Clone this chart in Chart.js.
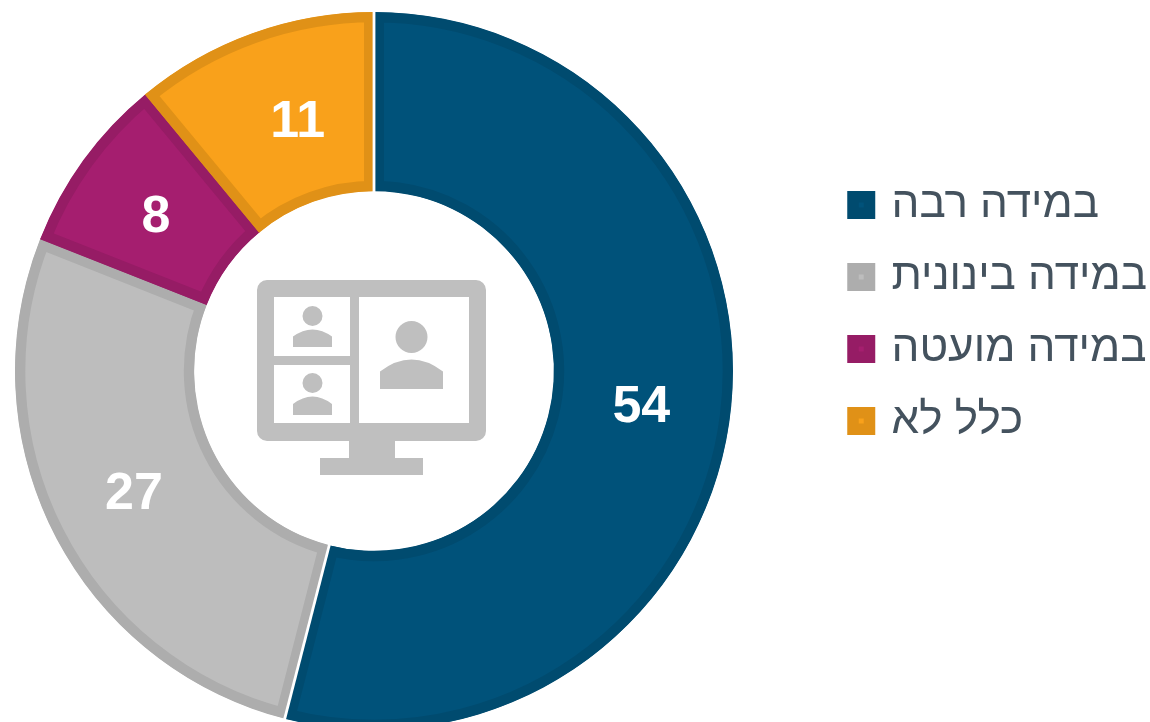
<!DOCTYPE html>
<html lang="he">
<head>
<meta charset="utf-8">
<script src="https://cdn.jsdelivr.net/npm/chart.js@4/dist/chart.umd.min.js"></script>
<style>
  html, body { margin: 0; padding: 0; background: #fff; width: 1150px; height: 722px; overflow: hidden; }
  canvas { display: block; }
</style>
</head>
<body>
<canvas id="chart" width="1150" height="745"></canvas>
<script>
// Data
const categories = ['במידה רבה', 'במידה בינונית', 'במידה מועטה', 'כלל לא'];
const values = [54, 27, 8, 11];

// Colours
const fillColors = ['#00527a', '#bdbdbd', '#a51e6f', '#f9a11b'];
const edgeColors = ['#004b6f', '#adadad', '#961c65', '#e09117'];
const iconColor = '#bfbfbf';
const legendTextColor = '#44525e';

// The ring runs past the bottom of the window, so the canvas is taller than the page
const plotArea = { left: 15, top: 12, right: 733, bottom: 730 };
const legendPos = { left: 853, top: 155 };
const labelShiftX = [0, 0, 0, 15];
const labelShiftY = [3, 1, 5, 5];

// Put the plot and the legend where the picture has them
const placement = {
  id: 'placement',
  afterLayout(chart) {
    Object.assign(chart.chartArea, plotArea, {
      width: plotArea.right - plotArea.left,
      height: plotArea.bottom - plotArea.top
    });
    const legend = chart.legend;
    legend.left = legendPos.left - legend.options.labels.padding;
    legend.right = legend.left + legend.width;
    legend.top = legendPos.top;
    legend.bottom = legend.top + legend.height;
  }
};

// White hairline on both sides of the first slice only
const sliceGaps = {
  id: 'sliceGaps',
  afterDatasetsDraw(chart) {
    const arc = chart.getDatasetMeta(0).data[0];
    const { ctx } = chart;
    ctx.save();
    ctx.strokeStyle = '#fff';
    ctx.lineWidth = 2.8;
    [arc.startAngle, arc.endAngle].forEach((angle) => {
      ctx.beginPath();
      ctx.moveTo(arc.x + Math.cos(angle) * (arc.innerRadius - 2), arc.y + Math.sin(angle) * (arc.innerRadius - 2));
      ctx.lineTo(arc.x + Math.cos(angle) * (arc.outerRadius + 2), arc.y + Math.sin(angle) * (arc.outerRadius + 2));
      ctx.stroke();
    });
    ctx.restore();
  }
};

// Value labels in the slices
const valueLabels = {
  id: 'valueLabels',
  afterDatasetsDraw(chart) {
    const { ctx } = chart;
    ctx.save();
    ctx.fillStyle = '#fff';
    ctx.font = 'bold 52px "Liberation Sans", Arial, sans-serif';
    ctx.textAlign = 'center';
    ctx.textBaseline = 'middle';
    chart.getDatasetMeta(0).data.forEach((arc, i) => {
      const pos = arc.tooltipPosition();
      ctx.fillText(String(values[i]), pos.x + labelShiftX[i], pos.y + labelShiftY[i]);
    });
    ctx.restore();
  }
};

// Monitor with three video call tiles in the hole
const centerIcon = {
  id: 'centerIcon',
  afterDraw(chart) {
    const { ctx } = chart;
    const person = (path, cx, headY, headR, bodyHalf, bodyTop, bodyBottom) => {
      path.moveTo(cx + headR, headY);
      path.arc(cx, headY, headR, 0, Math.PI * 2);
      path.moveTo(cx - bodyHalf, bodyBottom);
      path.lineTo(cx - bodyHalf, bodyTop + (bodyBottom - bodyTop) * 0.45);
      path.quadraticCurveTo(cx, bodyTop - (bodyBottom - bodyTop) * 0.3, cx + bodyHalf, bodyTop + (bodyBottom - bodyTop) * 0.45);
      path.lineTo(cx + bodyHalf, bodyBottom);
      path.closePath();
    };
    ctx.save();
    ctx.fillStyle = iconColor;
    // frame and stand
    const frame = new Path2D();
    frame.roundRect(257, 280, 229, 161, 10);
    frame.rect(274, 297, 76, 59);
    frame.rect(274, 365, 76, 58);
    frame.rect(359, 297, 110, 126);
    ctx.fill(frame, 'evenodd');
    ctx.fillRect(349, 441, 46, 18);
    ctx.fillRect(320, 458, 103, 17);
    // people
    const people = new Path2D();
    person(people, 312.5, 316, 10, 19.5, 328, 347);
    person(people, 312.5, 383, 10, 19.5, 395, 415);
    person(people, 411.5, 337, 16, 31.5, 357, 389);
    ctx.fill(people);
    ctx.restore();
  }
};

new Chart(document.getElementById('chart'), {
  type: 'doughnut',
  data: {
    labels: categories,
    datasets: [{
      data: values,
      backgroundColor: fillColors,
      borderColor: edgeColors,
      borderWidth: 10,
      borderAlign: 'inner',
      borderJoinStyle: 'miter'
    }]
  },
  plugins: [placement, sliceGaps, valueLabels, centerIcon],
  options: {
    responsive: false,
    animation: false,
    cutout: '50.1%',
    events: [],
    plugins: {
      tooltip: { enabled: false },
      legend: {
        position: 'right',
        align: 'start',
        textDirection: 'rtl',
        labels: {
          boxWidth: 16.5,
          boxHeight: 16.5,
          padding: 28,
          color: legendTextColor,
          font: { family: '"Liberation Sans", Arial, sans-serif', size: 44 },
          generateLabels(chart) {
            return Chart.overrides.doughnut.plugins.legend.labels.generateLabels(chart)
              .map((item) => Object.assign(item, { lineWidth: 11.5 }));
          }
        }
      }
    }
  }
});
</script>
</body>
</html>
